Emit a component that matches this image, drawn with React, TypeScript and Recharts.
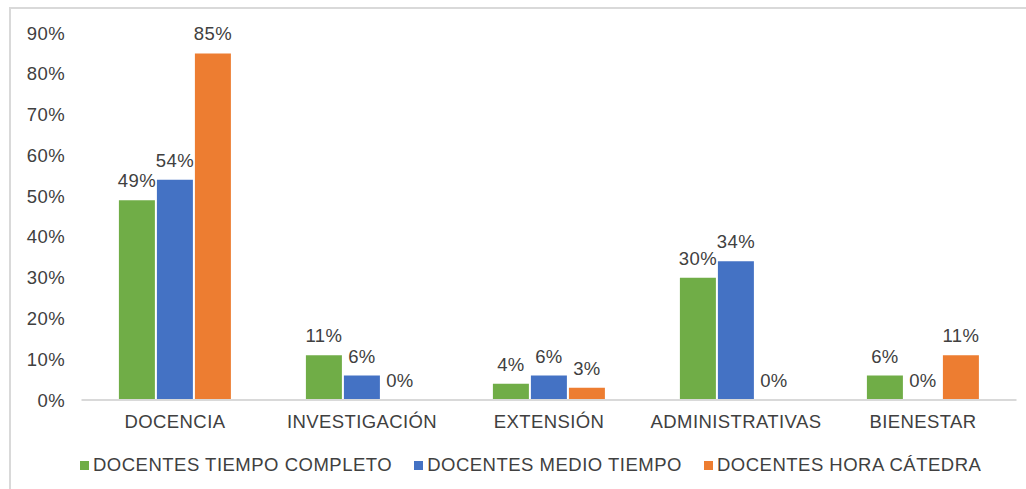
import React from "react";
import { BarChart, Bar, XAxis, YAxis, LabelList, ReferenceLine } from "recharts";

const categories = ["DOCENCIA", "INVESTIGACIÓN", "EXTENSIÓN", "ADMINISTRATIVAS", "BIENESTAR"];
const tiempoCompleto = [49, 11, 4, 30, 6];
const medioTiempo = [54, 6, 6, 34, 0];
const horaCatedra = [85, 0, 3, 0, 11];
const yTicks = [0, 10, 20, 30, 40, 50, 60, 70, 80, 90];

const seriesNames = ["DOCENTES TIEMPO COMPLETO", "DOCENTES MEDIO TIEMPO", "DOCENTES HORA CÁTEDRA"];
const colors = ["#70AD47", "#4472C4", "#ED7D31"];

const data = categories.map((c, i) => ({
  name: c,
  tc: tiempoCompleto[i],
  mt: medioTiempo[i],
  hc: horaCatedra[i],
}));

const FONT = "'Liberation Sans', Arial, sans-serif";
const TEXT = "#404040";
const FS = 18.5;
const LS = 0.4;

const pct = (v: any) => `${v}%`;

const renderLabel = (props: any) => {
  const { x, y, width, value } = props;
  if (value === undefined || value === null) return null;
  return (
    <text
      x={Number(x) + Number(width) / 2}
      y={Number(y) - 13}
      textAnchor="middle"
      fill={TEXT}
      fontSize={FS}
      fontFamily={FONT}
      letterSpacing={LS}
    >
      {`${value}%`}
    </text>
  );
};

export default function App() {
  return (
    <div style={{ position: "absolute", left: 0, top: 0, width: 1026, height: 489, background: "#fff", overflow: "hidden" }}>
      <div style={{ position: "absolute", left: 9, top: 7, width: 1040, height: 500, border: "2px solid #d9d9d9", boxSizing: "border-box" }} />
      <div style={{ position: "absolute", left: 0, top: 0 }}>
        <BarChart
          width={1026}
          height={489}
          data={data}
          margin={{ top: 33, right: 9.5, bottom: 59, left: 0 }}
          barCategoryGap="20%"
          barGap={2}
          style={{ fontFamily: FONT }}
        >
          <XAxis
            dataKey="name"
            height={30}
            axisLine={false}
            tickLine={false}
            tickSize={0}
            tickMargin={15}
            tick={{ fill: TEXT, fontSize: FS, fontFamily: FONT, letterSpacing: LS }}
            interval={0}
          />
          <YAxis
            width={81.5}
            domain={[0, 90]}
            ticks={yTicks}
            tickFormatter={pct}
            axisLine={false}
            tickLine={false}
            tickSize={0}
            tickMargin={16.5}
            tick={{ fill: TEXT, fontSize: FS, fontFamily: FONT, letterSpacing: LS }}
            interval={0}
          />
          <ReferenceLine y={0} stroke="#d9d9d9" strokeWidth={2} />
          {(["tc", "mt", "hc"] as const).map((k, i) => (
            <Bar key={k} dataKey={k} name={seriesNames[i]} fill={colors[i]} minPointSize={0.01} isAnimationActive={false}>
              <LabelList dataKey={k} content={renderLabel} />
            </Bar>
          ))}
        </BarChart>
      </div>
      <div
        style={{
          position: "absolute",
          left: 80,
          top: 454,
          height: 22,
          display: "flex",
          alignItems: "center",
          whiteSpace: "nowrap",
          fontFamily: FONT,
          fontSize: FS,
          letterSpacing: 0.5,
          color: TEXT,
        }}
      >
        {seriesNames.map((n, i) => (
          <div key={n} style={{ display: "flex", alignItems: "center", marginRight: 22 }}>
            <span style={{ display: "inline-block", width: 9, height: 9, background: colors[i], marginRight: 4 }} />
            <span>{n}</span>
          </div>
        ))}
      </div>
    </div>
  );
}
